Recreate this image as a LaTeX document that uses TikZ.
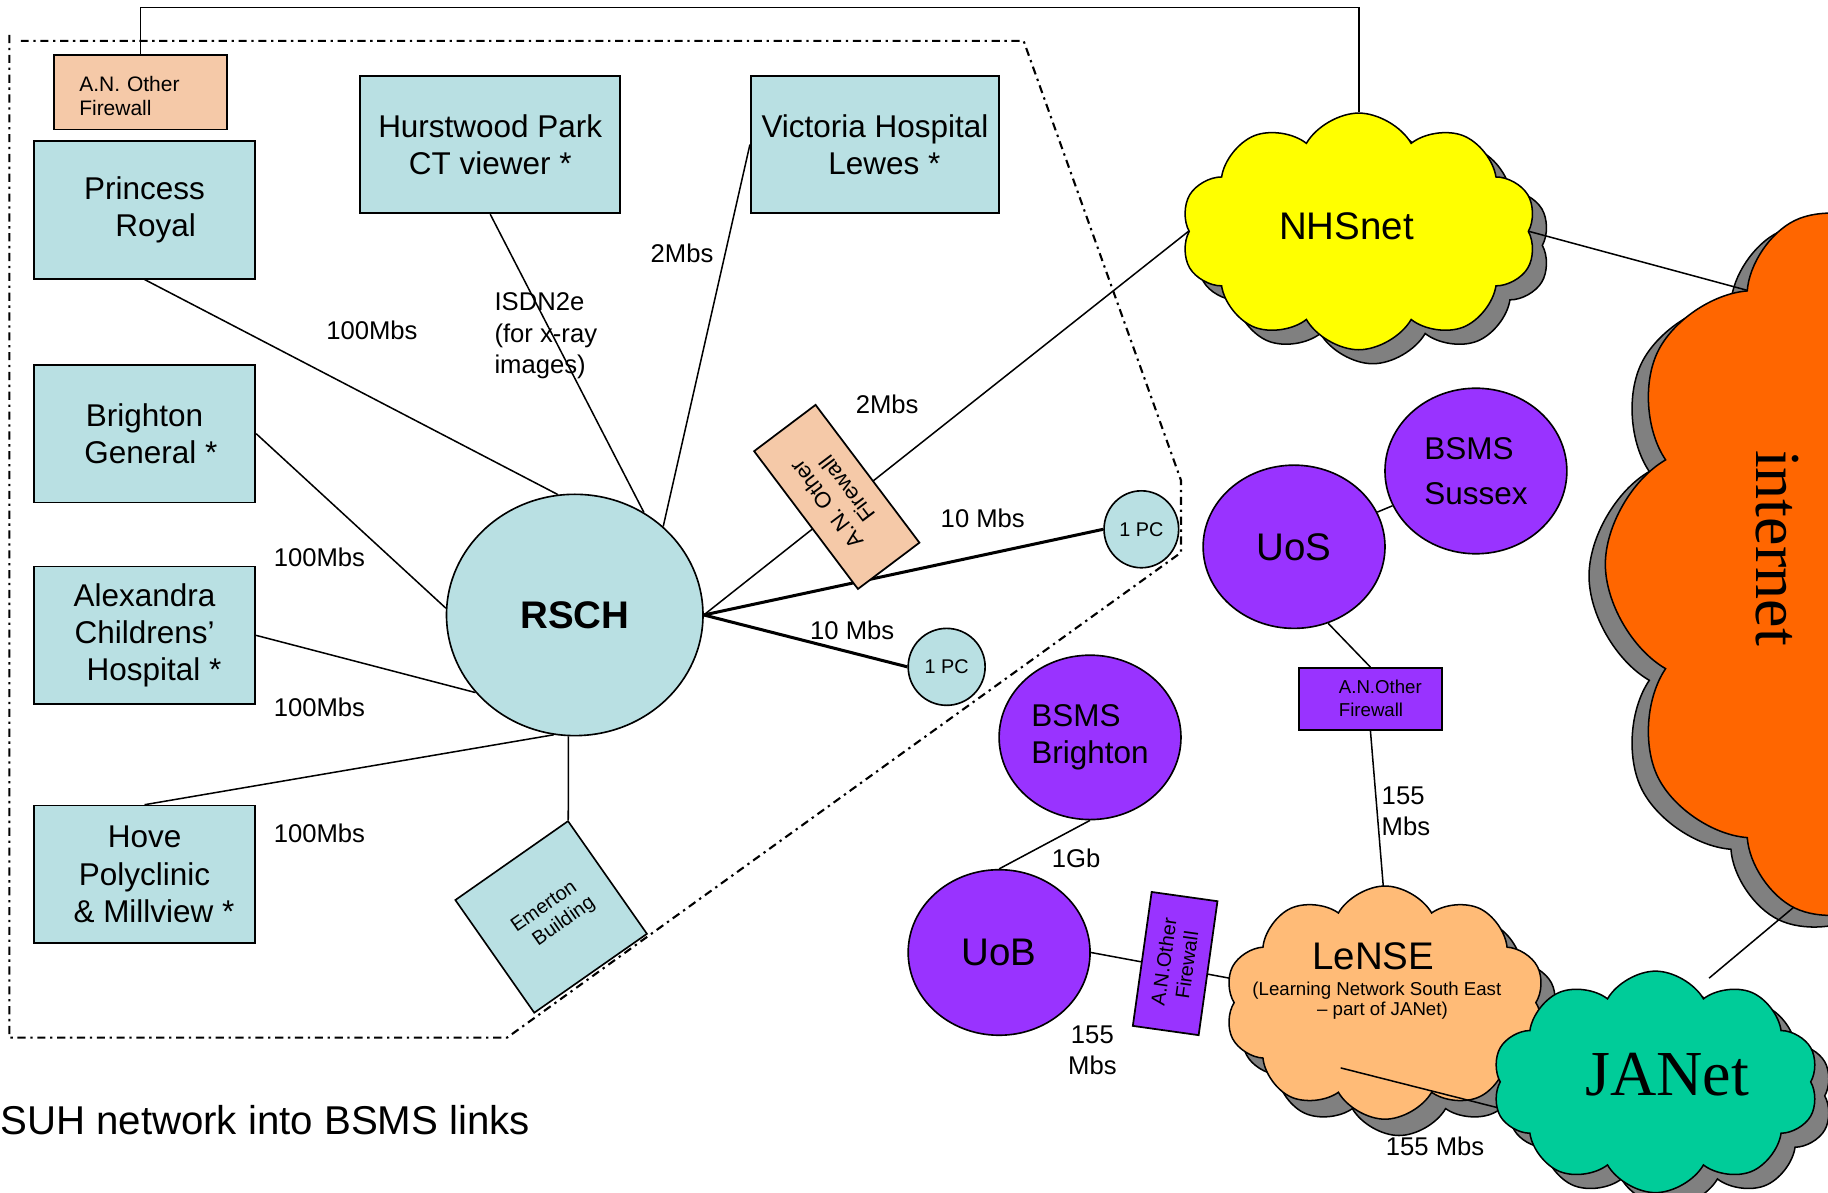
\documentclass[tikz,border=0pt]{standalone}
\usepackage{fontspec}
\setmainfont{Liberation Sans}
\newfontfamily\timesf{Liberation Serif}
\usetikzlibrary{shapes.symbols,shapes.geometric}
\definecolor{boxc}{RGB}{185,224,227}
\definecolor{peach}{RGB}{245,201,168}
\definecolor{purp}{RGB}{153,51,255}
\definecolor{nhsy}{RGB}{255,255,0}
\definecolor{inetc}{RGB}{255,102,0}
\definecolor{lensec}{RGB}{255,187,119}
\definecolor{janetc}{RGB}{0,204,153}
\definecolor{shad}{RGB}{128,128,128}
\newcommand\fs[2]{\fontsize{#1}{#2}\selectfont}
\pgfdeclarelayer{shadows}
\pgfdeclarelayer{lines}
\pgfsetlayers{shadows,lines,main}
\begin{document}
\begin{tikzpicture}[x=1pt,y=-1pt,
  sitebox/.style={draw, line width=1.5pt, fill=boxc, minimum width=190pt, minimum height=118pt, align=center, font=\fs{27}{32}, inner sep=0pt},
  lbl/.style={font=\fs{22}{27}, inner sep=0pt},
  conn/.style={line width=1.3pt},
  thickconn/.style={line width=2.6pt},
  ell/.style={ellipse, draw, line width=1.4pt, inner sep=0pt},
  pcnode/.style={ell, fill=boxc, font=\fs{17}{20}},
  uninode/.style={ell, fill=purp},
  fwp/.style={rectangle, draw, line width=1.5pt, fill=peach, inner sep=0pt},
  fwv/.style={rectangle, draw, line width=1.5pt, fill=purp, inner sep=0pt},
  cloudbase/.style={cloud, cloud puffs=10, cloud puff arc=120, aspect=1.5, inner sep=0pt, draw, line width=1.3pt},
  boundary/.style={line width=1.8pt, dash pattern=on 7pt off 4pt on 2pt off 4pt}
]
\useasboundingbox (0,0) rectangle (1568,1022.5);
\clip (0,0) rectangle (1568,1022.5);

% ---------- SUH sites ----------
\node[fwp, minimum width=149pt, minimum height=64pt] (fw1) at (120.5,79) {};
\node[font=\fs{18}{21}, text width=105pt, align=left, inner sep=0pt] (fw1t) at (120.5,82.5) {A.N. Other\\Firewall};
\node[sitebox] (pr) at (124,180) {Princess\\\hspace*{0.7em}Royal};
\node[sitebox, minimum width=223pt] (hp) at (420.5,124) {Hurstwood Park\\CT viewer *};
\node[sitebox, minimum width=213pt] (vh) at (750.5,124) {Victoria Hospital\\\hspace*{0.6em}Lewes *};
\node[sitebox] (bg) at (124,372) {Brighton\\\hspace*{0.4em}General *};
\node[sitebox] (ach) at (124,545) {Alexandra\\Childrens'\\\hspace*{0.6em}Hospital *};
\node[sitebox] (hove) at (124,750) {Hove\\Polyclinic\\\hspace*{0.6em}\& Millview *};
\node[ell, fill=boxc, minimum width=220pt, minimum height=207pt, font=\bfseries\fs{33}{38}] (rsch) at (493,527.5) {RSCH};
\node[rectangle, draw, line width=1.4pt, fill=boxc, rotate=35, minimum width=118pt, minimum height=118pt, inner sep=0pt, align=center, font=\fs{17}{20}] (em) at (472.75,786.5) {Emerton\\\hspace*{0.8em}Building};
\node[fwp, rotate=127, minimum width=148pt, minimum height=66pt, align=center, font=\fs{19}{22}] (fw2) at (717.75,426.25) {A.N. Other\\Firewall};
\node[pcnode, minimum width=64pt, minimum height=66pt] (pc1) at (979,454) {1 PC};
\node[pcnode, minimum width=66pt, minimum height=66pt] (pc2) at (812,572) {1 PC};

% ---------- university side ----------
\node[uninode, minimum width=156pt, minimum height=140pt, font=\fs{33}{38}] (uos) at (1110,469) {UoS};
\node[uninode, minimum width=156pt, minimum height=142pt, font=\fs{27}{39}, align=left] (bsus) at (1266,404) {BSMS\\Sussex};
\node[uninode, minimum width=156pt, minimum height=141pt, font=\fs{27}{32}, align=left] (bbr) at (935,632.5) {BSMS\\Brighton};
\node[uninode, minimum width=156pt, minimum height=142pt, font=\fs{33}{38}] (uob) at (857,817) {UoB};
\node[fwv, minimum width=123pt, minimum height=53pt] (fw3) at (1175.5,599.5) {};
\node[font=\fs{16}{19}, align=left, inner sep=0pt] (fw3t) at (1184,599) {A.N.Other\\Firewall};
\node[fwv, rotate=82, minimum width=116pt, minimum height=57pt, align=center, font=\fs{17}{20}] (fw4) at (1008,826.5) {A.N.Other\\Firewall};

% attachment points on the clouds
\coordinate (inetA) at (1506,251);
\coordinate (inetB) at (1546,772);
\coordinate (janetA) at (1466,839);
\coordinate (lenseA) at (1076,843);
\coordinate (lenseB) at (1188,778);
\coordinate (lenseC) at (1150,916);
\coordinate (janetB) at (1292,952);

% ---------- clouds ----------
\begin{pgfonlayer}{shadows}
\node[cloudbase, fill=shad, minimum width=305pt, minimum height=203pt] (nhss) at (1177.5,210.5) {};
\node[cloudbase, fill=shad, rotate=90, minimum width=620pt, minimum height=470pt] (inets) at (1598,494) {};
\node[cloudbase, fill=shad, minimum width=275pt, minimum height=200pt] (lenses) at (1200,874) {};
\node[cloudbase, fill=shad, minimum width=280pt, minimum height=190pt] (janets) at (1432,940) {};
\end{pgfonlayer}
\node[cloudbase, fill=nhsy, minimum width=305pt, minimum height=203pt] (nhs) at (1165.5,198.5) {};
\node[font=\fs{33}{38}, inner sep=0pt] (nhst) at (1155,194) {NHSnet};
\node[cloudbase, fill=inetc, rotate=90, minimum width=620pt, minimum height=470pt] (inet) at (1612,484) {};
\node[font=\timesf\fs{55}{60}, rotate=-90, inner sep=0pt] (inett) at (1525,470) {internet};
\node[cloudbase, fill=lensec, minimum width=275pt, minimum height=200pt] (lense) at (1188,860) {};
\node[font=\fs{33}{38}, inner sep=0pt] (lenset) at (1178,820) {LeNSE};
\node[font=\fs{16}{17}, align=center, inner sep=0pt] (lensesub) at (1181,858) {(Learning Network South East\\\hspace*{0.6em}-- part of JANet)};
\draw[conn] (lenseC) -- (janetB);
\node[cloudbase, fill=janetc, minimum width=280pt, minimum height=190pt] (janet) at (1420,928) {};
\node[font=\timesf\fs{55}{60}, inner sep=0pt] (janett) at (1430,922) {JANet};

% ---------- connectors ----------
\begin{pgfonlayer}{lines}
\draw[boundary] (8,30) -- (8,890) -- (435,890) -- (1013,474) -- (1013,412) -- (878,35) -- (18,35);
\draw[conn] (fw1.north) -- ++(0,-40) -| (nhs.north);
\draw[conn] (pr.south) -- (rsch.98);
\draw[conn] (hp.south) -- (rsch.56);
\draw[conn] (vh.west) -- (rsch.45);
\draw[conn] (bg.east) -- (rsch.177);
\draw[conn] (ach.east) -- (rsch.218);
\draw[conn] (hove.north) -- (rsch.260);
\draw[conn] (rsch.267) -- (em.north east);
\draw[conn] (rsch.east) -- (nhs.west);
\draw[thickconn] (rsch.east) -- (pc1.west);
\draw[thickconn] (rsch.east) -- (pc2.west);
\draw[conn] (nhs.east) -- (inetA);
\draw[conn] (inetB) -- (janetA);
\draw[conn] (uos.-66) -- (fw3.north);
\draw[conn] (fw3.south) -- (lenseB);
\draw[conn] (bbr.south) -- (uob.north);
\draw[conn] (uob.east) -- (lenseA);
\end{pgfonlayer}
\draw[conn] (uos) -- (bsus);

% ---------- labels ----------
\node[lbl] (l1) at (319,283) {100Mbs};
\node[lbl, align=left, anchor=west] (l2) at (424,288) {ISDN2e\\(for x-ray\\images)};
\node[lbl] (l3) at (585,217) {2Mbs};
\node[lbl] (l4) at (274,478) {100Mbs};
\node[lbl] (l5) at (274,607) {100Mbs};
\node[lbl] (l6) at (274,715) {100Mbs};
\node[lbl] (l7) at (761,347) {2Mbs};
\node[lbl] (l8) at (843,445) {10 Mbs};
\node[lbl] (l9) at (731,541) {10 Mbs};
\node[lbl] (l10) at (923,736) {1Gb};
\node[lbl, align=left, anchor=west] (l11) at (1185,696) {155\\Mbs};
\node[lbl, align=center] (l12) at (937,901) {155\\Mbs};
\node[lbl] (l13) at (1231,983) {155 Mbs};
\node[font=\fs{34.5}{40}, inner sep=0pt, anchor=west] (title) at (0,961) {SUH network into BSMS links};
\end{tikzpicture}
\end{document}
